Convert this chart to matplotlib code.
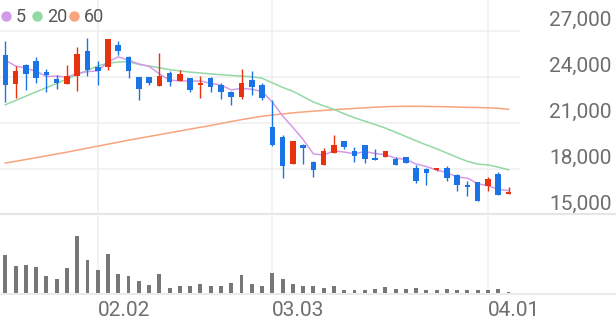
import matplotlib
matplotlib.use('Agg')
import matplotlib.pyplot as plt
import matplotlib.transforms as mtrans
from matplotlib.lines import Line2D
import numpy as np

# ---------------- data ----------------
opens = [25437, 23524, 24783, 25004, 24327, 23870, 23544, 24027, 25657, 24613,
         24613, 26087, 25266, 23959, 23959, 23414, 24242, 23740, 23915, 23479,
         23915, 23479, 23000, 22676, 23805, 23479, 20720, 20068, 18307, 19565,
         18418, 18261, 19022, 19787, 19135, 19526, 18698, 18742, 18633, 18742,
         18046, 18000, 17935, 18046, 17609, 16957, 17133, 16852, 17652, 16350]
highs = [26349, 24718, 24829, 25266, 24483, 24131, 24744, 25937, 26524, 25044,
         26479, 26309, 25331, 23959, 24000, 25527, 24392, 24457, 23937, 24066,
         23959, 23589, 23044, 24483, 24393, 23589, 22500, 20179, 19826, 19609,
         18522, 19350, 20179, 19787, 19396, 19565, 19305, 19174, 18742, 18742,
         18222, 18046, 18046, 18157, 17652, 17178, 17133, 17439, 17765, 16787]
lows = [22350, 22611, 23113, 23589, 22983, 23198, 23544, 23048, 24027, 23440,
        24457, 25437, 23915, 22500, 23440, 23414, 23414, 23696, 23000, 22611,
        23000, 22566, 22135, 22566, 22828, 22500, 19461, 17394, 18307, 18307,
        17439, 18261, 19022, 19305, 18437, 18372, 18548, 18742, 18261, 18372,
        17067, 16957, 17830, 17217, 16526, 16200, 15913, 16565, 16304, 16350]
closes = [23479, 24393, 24176, 23915, 24131, 23589, 24027, 25481, 24418, 24393,
          26479, 25700, 24393, 23198, 23589, 24066, 23635, 24176, 23113, 23609,
          23329, 23000, 22653, 23589, 23329, 22611, 19565, 18157, 19826, 19350,
          17935, 19174, 19565, 19396, 18809, 18653, 18548, 19174, 18261, 18372,
          17178, 17720, 18046, 17394, 16957, 16807, 15913, 17348, 16304, 16478]
ma5 = [25070, 24700, 24550, 24350, 24019, 24041, 23968, 24229, 24329, 24382,
       24960, 25294, 25077, 24833, 24672, 24189, 23776, 23733, 23716, 23720,
       23572, 23445, 23141, 23236, 23180, 23036, 22349, 21450, 20698, 19902,
       18967, 18888, 19170, 19084, 18976, 19119, 18994, 18916, 18689, 18602,
       18307, 18141, 17915, 17742, 17459, 17385, 17023, 16884, 16666, 16570]
ma20 = [22170, 22450, 22730, 23010, 23290, 23560, 23840, 24120, 24420, 24700,
        24880, 24960, 24980, 24800, 24700, 24580, 24460, 24380, 24300, 24240,
        24180, 24130, 24080, 24030, 24000, 23900, 23600, 23300, 23050, 22700,
        22350, 22100, 21870, 21580, 21320, 21100, 20880, 20650, 20380, 20100,
        19820, 19550, 19300, 19020, 18740, 18480, 18300, 18250, 18100, 17930]
ma60 = [18370, 18480, 18600, 18720, 18840, 18960, 19080, 19210, 19340, 19470,
        19600, 19730, 19860, 19980, 20100, 20220, 20340, 20460, 20580, 20700,
        20820, 20950, 21080, 21200, 21310, 21420, 21500, 21570, 21640, 21700,
        21750, 21800, 21850, 21890, 21930, 21970, 22010, 22040, 22060, 22070,
        22070, 22060, 22050, 22040, 22020, 22000, 21990, 21970, 21940, 21870]
volumes = [380, 273, 283, 260, 177, 143, 250, 577, 333, 230,
           393, 190, 173, 127, 80, 190, 57, 73, 73, 93,
           77, 77, 103, 187, 93, 73, 200, 147, 93, 70,
           70, 57, 70, 30, 30, 30, 40, 60, 40, 40,
           53, 33, 33, 43, 33, 33, 33, 30, 43, 10]
tick_idx = [9, 26, 47]
tick_labels = ['02.02', '03.03', '04.01']
price_ticks = [15000, 18000, 21000, 24000, 27000]
legend_labels = ['5', '20', '60']

# ---------------- style ----------------
UP = '#E8310F'
DOWN = '#1A74E6'
C5, C20, C60 = '#D49AEA', '#93D9A4', '#F8A47C'
GRID = '#F0F0F0'
TXT = '#6E6E6E'
FONT = 'Roboto'

W, H = 616, 321
fig = plt.figure(figsize=(W / 100, H / 100), dpi=100)
fig.patch.set_facecolor('white')

x0px, step = 5.3, 10.27
left_px, right_px = 0, 520
xlim = ((left_px - x0px) / step, (right_px - x0px) / step)

price_bot_px = 214.7
px_per_unit = 46.0 / 3000.0
ymin = 15000
ymax = ymin + price_bot_px / px_per_unit

ax = fig.add_axes([left_px / W, 1 - price_bot_px / H, (right_px - left_px) / W, price_bot_px / H])
vol_top, vol_bot = 216.0, 293.3
vax = fig.add_axes([left_px / W, 1 - vol_bot / H, (right_px - left_px) / W, (vol_bot - vol_top) / H])

for a in (ax, vax):
    a.set_xlim(*xlim)
    a.set_facecolor('none')
    for s in a.spines.values():
        s.set_visible(False)
    a.set_xticks([])
    a.set_yticks([])

ax.set_ylim(ymin, ymax)
vax.set_ylim(0, (vol_bot - vol_top) * 10)

n = len(opens)
xs = np.arange(n)

# grid
for p in price_ticks[1:]:
    ax.axhline(p, color=GRID, lw=1.2, zorder=0)
for t in tick_idx:
    ax.axvline(t, color=GRID, lw=1.2, zorder=0)
    vax.axvline(t, color=GRID, lw=1.2, zorder=0)

# separators (full width)
fig.add_artist(Line2D([0, 1], [1 - 213.8 / H] * 2, transform=fig.transFigure, color='#E6E6E6', lw=1.5))
fig.add_artist(Line2D([0, 1], [1 - 293.8 / H] * 2, transform=fig.transFigure, color='#E6E6E6', lw=1.2))

# MA lines
ax.plot(xs, ma60, color=C60, lw=1.1, zorder=2)
ax.plot(xs, ma20, color=C20, lw=1.1, zorder=2)
ax.plot(xs, ma5, color=C5, lw=1.1, zorder=2)

# candles
min_h = 1.4 / px_per_unit
for i in range(n):
    o, h, l, c = opens[i], highs[i], lows[i], closes[i]
    col = UP if c >= o else DOWN
    ax.vlines(xs[i], l, h, color=col, lw=1.0, zorder=3)
    bottom = min(o, c)
    height = max(abs(c - o), min_h)
    ax.bar(xs[i], height, bottom=bottom, width=0.54, color=col, edgecolor='none', zorder=4)

# volume
vax.bar(xs, volumes, width=0.38, color='#777777', edgecolor='none', zorder=2)

# y labels (right side)
ytrans = mtrans.blended_transform_factory(fig.transFigure, ax.transData)
ytrans = mtrans.offset_copy(ytrans, fig=fig, x=0, y=4.5, units='dots')
for p in price_ticks:
    fig.text(611.5 / W, p, f'{p:,}', transform=ytrans, ha='right', va='baseline',
             fontsize=15, color=TXT, family=FONT)

# x labels
xtrans = mtrans.blended_transform_factory(vax.transData, fig.transFigure)
for t, lab in zip(tick_idx, tick_labels):
    fig.text(t, 1 - 316.5 / H, lab, transform=xtrans, ha='left', va='baseline',
             fontsize=15, color=TXT, family=FONT)

# legend
leg_cols = [C5, C20, C60]
leg_x = [6.3, 37.3, 74.0]
for xx, col, lab in zip(leg_x, leg_cols, legend_labels):
    fig.add_artist(Line2D([xx / W], [1 - 15.5 / H], marker='o', markersize=7.5,
                          markerfacecolor=col, markeredgecolor='none', linestyle='none',
                          transform=fig.transFigure))
    fig.text((xx + 9.5) / W, 1 - 21.5 / H, lab, ha='left', va='baseline',
             fontsize=13, color='#555555', family=FONT)

fig.savefig('out.png', dpi=100, facecolor='white')
